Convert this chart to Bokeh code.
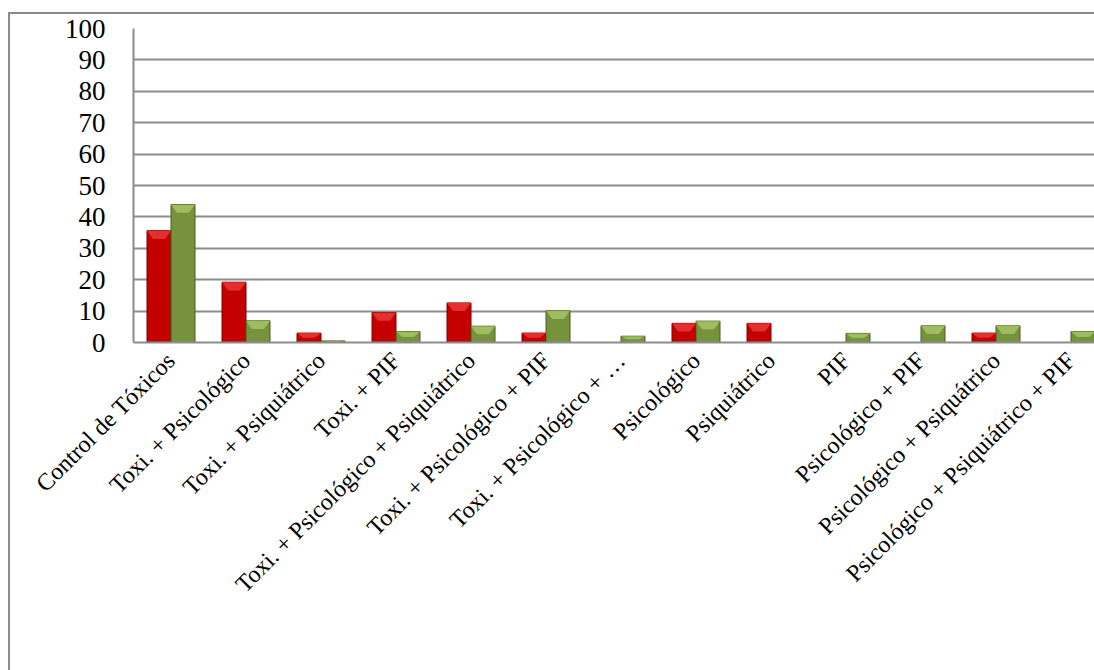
from bokeh.plotting import figure
from bokeh.models import ColumnDataSource, FixedTicker, Legend, LegendItem, Range1d
from bokeh.embed import file_html
from bokeh.resources import INLINE

categories = [
    "Control de Tóxicos",
    "Toxi. + Psicológico",
    "Toxi. + Psiquiátrico",
    "Toxi. + PIF",
    "Toxi. + Psicológico + Psiquiátrico",
    "Toxi. + Psicológico + PIF",
    "Toxi. + Psicológico + …",
    "Psicológico",
    "Psiquiátrico",
    "PIF",
    "Psicológico + PIF",
    "Psicológico + Psiquátrico",
    "Psicológico + Psiquiátrico + PIF",
]
internamiento = [35.6, 19.2, 3.0, 9.5, 12.6, 3.0, 0.0, 6.1, 6.1, 0.0, 0.0, 3.0, 0.0]
ambulatorio = [43.9, 6.9, 0.5, 3.5, 5.2, 10.1, 2.0, 6.8, 0.0, 2.9, 5.3, 5.3, 3.5]
y_ticks = list(range(0, 101, 10))

FONT = "Liberation Serif"
RED = "#c40000"
RED_LIGHT = "#ee3a3a"
GREEN = "#76923c"
GREEN_LIGHT = "#a9c86a"
BAR_W = 0.32

idx = list(range(len(categories)))
xr = [i - BAR_W / 2 for i in idx]
xg = [i + BAR_W / 2 for i in idx]
src = ColumnDataSource(dict(xr=xr, xg=xg, red=internamiento, green=ambulatorio))


def bevel(xs, tops):
    # light top facet of each bar, derived from the bar's own value
    px, py = [], []
    for x, t in zip(xs, tops):
        if t <= 0:
            continue
        d = min(2.6, t * 0.5)
        px.append([x - BAR_W / 2, x + BAR_W / 2, x + BAR_W / 2 - 0.08, x - BAR_W / 2 + 0.08])
        py.append([t, t, t - d, t - d])
    return px, py


p = figure(frame_width=961, frame_height=314, output_backend="svg", toolbar_location=None,
           x_range=Range1d(-0.5, -0.5 + 961 / 75), y_range=Range1d(0, 100),
           min_border_left=123, min_border_right=0, min_border_top=14,
           min_border_bottom=0)

r1 = p.vbar(x="xr", top="red", width=BAR_W, source=src, fill_color=RED,
            line_color="#7a0000", line_width=1)
r2 = p.vbar(x="xg", top="green", width=BAR_W, source=src, fill_color=GREEN,
            line_color="#4a5c25", line_width=1)
bx, by = bevel(xr, internamiento)
p.patches(bx, by, fill_color=RED_LIGHT, line_color=None, fill_alpha=0.8)
bx, by = bevel(xg, ambulatorio)
p.patches(bx, by, fill_color=GREEN_LIGHT, line_color=None, fill_alpha=0.8)

p.outline_line_color = None
p.background_fill_color = "white"
p.border_fill_color = "white"

p.xgrid.grid_line_color = None
p.ygrid.grid_line_color = "#8c8c8c"
p.ygrid.grid_line_width = 2
p.ygrid.ticker = FixedTicker(ticks=y_ticks)

p.yaxis.ticker = FixedTicker(ticks=y_ticks)
p.yaxis.axis_line_color = "#8c8c8c"
p.yaxis.axis_line_width = 2
p.yaxis.major_tick_line_color = None
p.yaxis.minor_tick_line_color = None
p.yaxis.major_label_text_font = FONT
p.yaxis.major_label_text_font_size = "27px"
p.yaxis.major_label_text_color = "black"
p.yaxis.major_label_standoff = 22

p.xaxis.ticker = FixedTicker(ticks=idx)
p.xaxis.major_label_overrides = {i: c for i, c in zip(idx, categories)}
p.xaxis.major_label_orientation = 0.785398
p.xaxis.axis_line_color = "#8c8c8c"
p.xaxis.axis_line_width = 2
p.xaxis.major_tick_line_color = None
p.xaxis.minor_tick_line_color = None
p.xaxis.major_label_text_font = FONT
p.xaxis.major_label_text_font_size = "24px"
p.xaxis.major_label_text_color = "black"
p.xaxis.major_label_standoff = 8

legend = Legend(items=[
    LegendItem(label="Internamiento terapéutico", renderers=[r1]),
    LegendItem(label="Tratamieto ambulatorio", renderers=[r2]),
], orientation="horizontal", location=(142, 0))
legend.label_text_font = FONT
legend.label_text_font_size = "23px"
legend.label_text_color = "black"
legend.label_height = 20
legend.glyph_width = 14
legend.glyph_height = 14
legend.spacing = 58
legend.label_standoff = 3
legend.padding = 0
legend.margin = 0
legend.border_line_color = None
legend.background_fill_alpha = 0
p.add_layout(legend, "below")

p.styles = {"margin-left": "8px", "margin-top": "12px",
            "border-left": "2px solid #8c8c8c", "border-top": "2px solid #8c8c8c"}

open("out.html", "w").write(file_html(p, INLINE))
